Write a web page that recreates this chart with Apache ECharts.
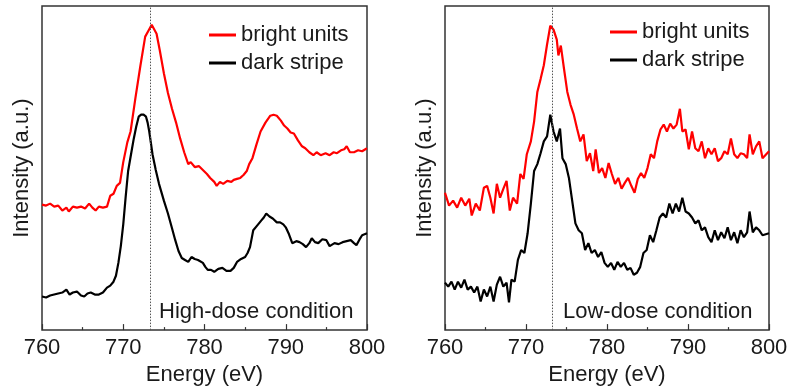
<!DOCTYPE html>
<html>
<head>
<meta charset="utf-8">
<script src="https://cdn.jsdelivr.net/npm/echarts@6/dist/echarts.min.js"></script>
<style>
  html, body { margin: 0; padding: 0; background: #fff; }
  #chart { width: 792px; height: 391px; }
</style>
</head>
<body>
<div id="chart"></div>
<script>
// energy axis ticks (eV)
var energyTicks = [760, 770, 780, 790, 800];
var peakLine = 773.3;

// high-dose condition, bright units (red)
var hiRedE = [760, 760.5, 761, 761.5, 762, 762.5, 763, 763.3, 763.8, 764.3, 764.8, 765.3, 765.8, 766.2, 766.6, 767, 767.5, 768, 768.4, 768.8, 769.2, 769.6, 770, 770.5, 770.9, 771.5, 772.1, 772.7, 773.1, 773.5, 774.1, 774.5, 775, 775.5, 776, 776.5, 777, 777.5, 778, 778.3, 778.8, 779.3, 779.8, 780.3, 780.7, 781.2, 781.5, 781.9, 782.3, 782.8, 783.3, 783.6, 784, 784.4, 784.8, 785.2, 785.5, 785.9, 786.4, 786.9, 787.5, 788.1, 788.5, 788.9, 789.4, 789.8, 790.2, 790.6, 791, 791.5, 792, 792.4, 792.9, 793.4, 793.8, 794.3, 794.9, 795.4, 795.9, 796.3, 796.8, 797.2, 797.5, 797.9, 798.4, 798.9, 799.4, 800];
var hiRedI = [127, 126, 128, 125, 126, 121, 124, 120, 125, 124, 125, 123, 128, 124, 121, 125, 124, 125, 136, 138, 146, 149, 170, 190, 201, 235, 267, 297, 303, 309, 300, 283, 260, 240, 224, 210, 194, 180, 168, 170, 165, 166, 162, 158, 154, 150, 146, 150, 148, 151, 150, 152, 153, 154, 157, 161, 168, 174, 188, 201, 210, 217, 218, 217, 212, 207, 204, 200, 199, 192, 186, 184, 180, 177, 180, 177, 179, 177, 180, 179, 182, 183, 186, 180, 180, 182, 181, 184];

// high-dose condition, dark stripe (black)
var hiBlackE = [760, 760.5, 761, 761.5, 762, 762.5, 763, 763.4, 763.8, 764.3, 764.8, 765.2, 765.6, 766, 766.5, 767, 767.5, 768, 768.4, 768.8, 769.1, 769.4, 769.7, 770, 770.3, 770.6, 771, 771.3, 771.6, 771.9, 772.2, 772.5, 772.8, 773, 773.2, 773.6, 774, 774.4, 775, 775.5, 776, 776.4, 776.8, 777.2, 777.6, 778, 778.4, 778.8, 779.2, 779.8, 780.1, 780.4, 780.8, 781.2, 781.7, 782.2, 782.7, 783.2, 783.6, 784, 784.5, 785, 785.3, 785.6, 786, 786.5, 787, 787.3, 787.6, 788, 788.4, 788.9, 789.3, 789.7, 790, 790.4, 790.8, 791.3, 791.7, 792.1, 792.5, 792.9, 793.2, 793.6, 794, 794.5, 795, 795.4, 796, 796.5, 797, 797.5, 798, 798.4, 798.7, 799.1, 799.4, 799.7, 800];
var hiBlackI = [34, 33, 35, 36, 37, 38, 41, 36, 38, 39, 35, 34, 37, 38, 36, 36, 38, 43, 45, 49, 55, 68, 85, 107, 135, 161, 180, 194, 206, 216, 218, 218, 216, 210, 201, 178, 162, 148, 131, 118, 103, 91, 80, 73, 71, 69, 74, 72, 71, 68, 64, 61, 61, 59, 62, 63, 60, 60, 63, 69, 72, 74, 78, 84, 101, 106, 111, 114, 118, 115, 113, 109, 109, 107, 104, 97, 88, 90, 89, 87, 84, 88, 93, 89, 88, 92, 91, 85, 88, 87, 89, 90, 91, 88, 86, 92, 96, 97, 98];

// low-dose condition, bright units (red)
var loRedE = [760, 760.5, 761, 761.5, 762, 762.5, 763, 763.3, 763.8, 764.3, 764.8, 765.2, 765.6, 766, 766.4, 766.8, 767.2, 767.6, 768, 768.4, 768.9, 769.3, 769.7, 770.1, 770.6, 771, 771.4, 771.8, 772.2, 772.6, 773, 773.4, 773.8, 774, 774.3, 774.7, 775.1, 775.5, 775.9, 776.3, 776.7, 777.1, 777.5, 777.9, 778.3, 778.6, 779, 779.4, 779.8, 780.2, 780.6, 781, 781.4, 781.8, 782.2, 782.6, 783, 783.4, 783.8, 784.2, 784.6, 785, 785.4, 785.8, 786.2, 786.6, 787, 787.4, 787.8, 788.2, 788.6, 789, 789.3, 789.7, 790.1, 790.5, 790.9, 791.3, 791.7, 792.1, 792.5, 792.9, 793.3, 793.7, 794.1, 794.5, 794.9, 795.3, 795.7, 796.1, 796.5, 796.9, 797.3, 797.6, 798, 798.4, 798.8, 799.2, 800];
var loRedI = [139, 126, 131, 124, 134, 126, 133, 116, 128, 121, 144, 146, 134, 118, 148, 134, 143, 151, 121, 134, 128, 158, 153, 178, 191, 211, 241, 254, 268, 289, 308, 304, 294, 278, 288, 264, 241, 228, 218, 204, 191, 198, 171, 179, 161, 183, 159, 164, 154, 169, 158, 148, 154, 143, 149, 154, 146, 139, 153, 159, 154, 164, 178, 174, 191, 203, 208, 201, 209, 204, 208, 224, 201, 203, 183, 201, 184, 181, 191, 174, 184, 178, 184, 171, 174, 181, 178, 194, 178, 174, 179, 178, 174, 198, 178, 186, 191, 174, 181];

// low-dose condition, dark stripe (black)
var loBlackE = [760, 760.4, 760.8, 761.2, 761.6, 762, 762.4, 762.8, 763.2, 763.6, 764, 764.4, 764.8, 765.2, 765.6, 766, 766.4, 766.8, 767.2, 767.6, 767.9, 768.2, 768.6, 769, 769.4, 769.8, 770.2, 770.6, 771, 771.4, 771.8, 772.2, 772.6, 773, 773.4, 773.8, 774.2, 774.5, 774.9, 775.3, 775.7, 776.1, 776.5, 776.9, 777.3, 777.7, 778.1, 778.5, 778.9, 779.3, 779.7, 780.1, 780.5, 780.9, 781.3, 781.7, 782.1, 782.5, 782.9, 783.3, 783.7, 784.1, 784.5, 784.9, 785.3, 785.7, 786.1, 786.5, 786.9, 787.3, 787.7, 788.1, 788.5, 788.9, 789.3, 789.7, 790.1, 790.5, 790.9, 791.3, 791.7, 792.1, 792.5, 792.9, 793.3, 793.7, 794.1, 794.5, 794.9, 795.3, 795.7, 796.1, 796.5, 796.9, 797.3, 797.6, 798, 798.4, 798.8, 799.2, 800];
var loBlackI = [48, 44, 49, 41, 49, 43, 51, 41, 44, 38, 44, 29, 41, 34, 44, 29, 46, 54, 44, 48, 28, 51, 49, 71, 81, 78, 98, 128, 161, 168, 179, 191, 196, 218, 201, 191, 204, 174, 168, 154, 131, 108, 101, 98, 81, 88, 78, 81, 74, 79, 68, 64, 68, 61, 69, 64, 68, 61, 63, 56, 58, 64, 78, 81, 96, 89, 101, 114, 118, 114, 128, 118, 128, 120, 134, 120, 118, 114, 108, 111, 101, 104, 94, 89, 101, 91, 99, 93, 104, 91, 99, 88, 101, 94, 99, 120, 99, 104, 101, 96, 98];

var FONT = "'Liberation Sans', Arial, sans-serif";

function zip(xs, ys) {
    var out = [];
    for (var i = 0; i < xs.length; i++) out.push([xs[i], ys[i]]);
    return out;
}

function energyAxis(idx) {
    return {
        type: 'value',
        gridIndex: idx,
        min: energyTicks[0],
        max: energyTicks[energyTicks.length - 1],
        interval: 10,
        name: 'Energy (eV)',
        nameLocation: 'middle',
        nameGap: 33,
        nameTextStyle: { fontFamily: FONT, fontSize: 22, color: '#1a1a1a' },
        axisLine: { show: false },
        axisTick: { show: true, inside: true, length: 6, lineStyle: { color: '#333', width: 1.2 } },
        minorTick: { show: true, splitNumber: 2, length: 3, lineStyle: { color: '#333', width: 1.2 } },
        axisLabel: { margin: 7, fontFamily: FONT, fontSize: 22, color: '#1a1a1a' },
        splitLine: { show: false }
    };
}

function intensityAxis(idx) {
    return {
        type: 'value',
        gridIndex: idx,
        min: 0,
        max: 328,
        name: 'Intensity (a.u.)',
        nameLocation: 'middle',
        nameRotate: 90,
        nameGap: 9,
        nameTextStyle: { fontFamily: FONT, fontSize: 22, color: '#1a1a1a' },
        axisLine: { show: false },
        axisTick: { show: false },
        axisLabel: { show: false },
        splitLine: { show: false }
    };
}

function spectrum(name, idx, xs, ys, color, withMark) {
    var s = {
        name: name,
        type: 'line',
        xAxisIndex: idx,
        yAxisIndex: idx,
        data: zip(xs, ys),
        showSymbol: false,
        symbol: 'none',
        animation: false,
        lineStyle: { color: color, width: 2.2 },
        itemStyle: { color: color }
    };
    if (withMark) {
        s.markLine = {
            silent: true,
            symbol: 'none',
            label: { show: false },
            lineStyle: { color: '#555', type: [1.5, 1.5], width: 1 },
            data: [{ xAxis: peakLine }]
        };
    }
    return s;
}

var legendText = { fontFamily: FONT, fontSize: 22, color: '#1a1a1a' };

var option = {
    backgroundColor: '#fff',
    animation: false,
    grid: [
        { left: 42, right: 425, top: 6, bottom: 57, show: true, borderColor: '#333', borderWidth: 1.5 },
        { left: 445, right: 23, top: 6, bottom: 57, show: true, borderColor: '#333', borderWidth: 1.5 }
    ],
    xAxis: [energyAxis(0), energyAxis(1)],
    yAxis: [intensityAxis(0), intensityAxis(1)],
    legend: [
        {
            orient: 'vertical', left: 204, top: 19, itemGap: 6,
            itemWidth: 27, itemHeight: 3, icon: 'rect',
            textStyle: legendText,
            data: ['bright units', 'dark stripe']
        },
        {
            orient: 'vertical', left: 605, top: 16, itemGap: 6,
            itemWidth: 27, itemHeight: 3, icon: 'rect',
            textStyle: legendText,
            data: ['bright units ', 'dark stripe ']
        }
    ],
    graphic: [
        { type: 'text', left: 159, top: 301, style: { text: 'High-dose condition', font: '22px ' + FONT, fill: '#1a1a1a' } },
        { type: 'text', left: 563, top: 301, style: { text: 'Low-dose condition', font: '22px ' + FONT, fill: '#1a1a1a' } }
    ],
    series: [
        spectrum('bright units', 0, hiRedE, hiRedI, '#ff0000', true),
        spectrum('dark stripe', 0, hiBlackE, hiBlackI, '#000000', false),
        spectrum('bright units ', 1, loRedE, loRedI, '#ff0000', true),
        spectrum('dark stripe ', 1, loBlackE, loBlackI, '#000000', false)
    ]
};

var myChart = echarts.init(document.getElementById('chart'), null, { renderer: 'canvas' });
myChart.setOption(option);
</script>
</body>
</html>
